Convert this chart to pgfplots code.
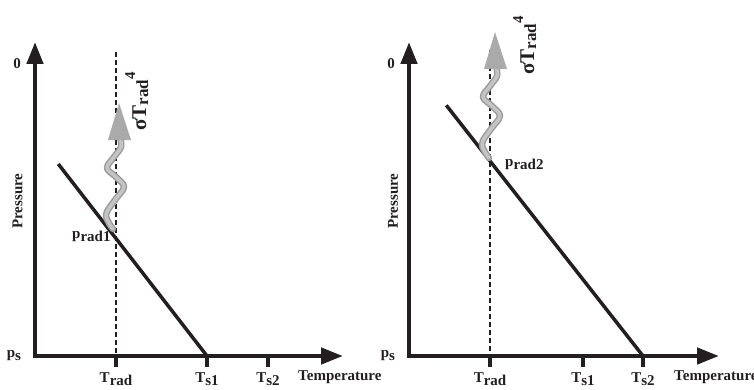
\documentclass[border=0pt]{standalone}
\usepackage{fontspec}
\setmainfont{Liberation Serif}
\usepackage{pgfplots}
\pgfplotsset{compat=1.18}
\usetikzlibrary{arrows.meta}
\definecolor{ink}{HTML}{231F20}
\definecolor{waveedge}{HTML}{9C9C9C}
\definecolor{wavefill}{HTML}{C4C4C4}
\definecolor{headfill}{HTML}{AAAAAA}
\newcommand{\lo}[1]{\raisebox{-3pt}{#1}}
\newcommand{\sigmalabel}{{\fontsize{21}{21}\selectfont\bfseries σT\raisebox{-2pt}{\fontsize{17}{17}\selectfont rad}\raisebox{11pt}{\fontsize{15}{15}\selectfont 4}}}
\pgfplotsset{
  panel/.style={
    scale only axis, clip=false,
    height=314pt, ymin=33, ymax=347,
    axis lines=left,
    axis line style={ink, line width=4.5pt, line cap=rect, -{Triangle[length=22pt,width=16pt]}},
    tick align=outside, major tick length=10.5pt,
    xtick style={ink, line width=4pt, line cap=butt},
    ytick style={draw=none},
    ytick={33,325}, yticklabels={p\lo{s}, 0},
    xticklabels={T\lo{rad}, T\lo{s1}, T\lo{s2}},
    tick label style={font=\fontsize{15}{17}\selectfont\bfseries, text=ink},
    xticklabel style={anchor=base, yshift=-15.5pt},
    label style={font=\fontsize{15}{17}\selectfont\bfseries, text=ink},
    xlabel={Temperature}, ylabel={Pressure},
  },
  wave/.style={smooth, tension=0.6, line cap=round, line join=round},
}
\begin{document}
\begin{tikzpicture}
% ---------- left panel ----------
\begin{axis}[panel, at={(35pt,33pt)}, anchor=south west,
  width=308pt, xmin=35, xmax=343, xtick={116,207,268},
  xlabel style={at={(axis cs:298,9)}, anchor=base west, inner sep=0pt},
  ylabel style={at={(axis cs:17.5,188)}, anchor=center, rotate=0}]
  \addplot[ink, line width=1.6pt, dash pattern=on 5pt off 3pt] coordinates {(116,337) (116,33)};
  \addplot[ink, line width=3.5pt] coordinates {(58.3,225) (207,33)};
  \addplot[wave, waveedge, line width=6.5pt] coordinates {(113,160) (106,174) (115,189) (124,202) (116,212) (107,221) (114,232) (121,242) (120,252)};
  \addplot[wave, wavefill, line width=3.5pt] coordinates {(113,160) (106,174) (115,189) (124,202) (116,212) (107,221) (114,232) (121,242) (120,252)};
  \addplot[draw=none, fill=headfill] coordinates {(108,249) (131,249) (119,286)} -- cycle;
  \node[rotate=90, anchor=base west, inner sep=0pt, text=ink] at (axis cs:146,258) {\sigmalabel};
  \node[anchor=base west, inner sep=0pt, text=ink, font=\fontsize{15}{17}\selectfont\bfseries] at (axis cs:72,151) {p\lo{rad1}};
\end{axis}
% ---------- right panel ----------
\begin{axis}[panel, at={(409pt,33pt)}, anchor=south west,
  width=310pt, xmin=409, xmax=719, xtick={490,583,643},
  xlabel style={at={(axis cs:674,9)}, anchor=base west, inner sep=0pt},
  ylabel style={at={(axis cs:393,188)}, anchor=center, rotate=0}]
  \addplot[ink, line width=1.6pt, dash pattern=on 5pt off 3pt] coordinates {(490,339) (490,33)};
  \addplot[ink, line width=3.5pt] coordinates {(446.3,283.7) (643,33)};
  \addplot[wave, waveedge, line width=6.5pt] coordinates {(489,231) (482,245) (491,260) (500,273) (492,283) (483,292) (490,303) (497,313) (496,323)};
  \addplot[wave, wavefill, line width=3.5pt] coordinates {(489,231) (482,245) (491,260) (500,273) (492,283) (483,292) (490,303) (497,313) (496,323)};
  \addplot[draw=none, fill=headfill] coordinates {(484,320) (507,320) (495,357)} -- cycle;
  \node[rotate=90, anchor=base west, inner sep=0pt, text=ink] at (axis cs:534,314) {\sigmalabel};
  \node[anchor=base west, inner sep=0pt, text=ink, font=\fontsize{15}{17}\selectfont\bfseries] at (axis cs:505,223) {p\lo{rad2}};
\end{axis}
\pgfresetboundingbox
\path[use as bounding box] (0,0) rectangle (754pt,389pt);
\end{tikzpicture}
\end{document}
